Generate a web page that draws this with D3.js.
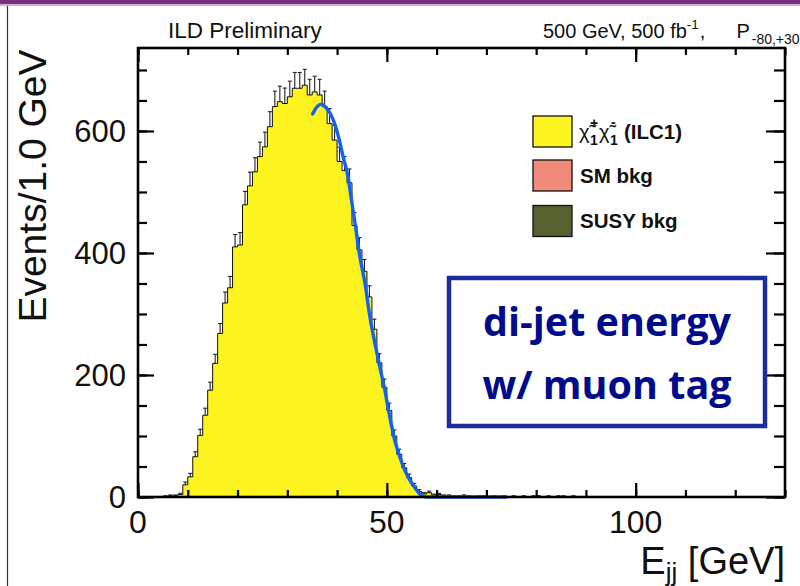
<!DOCTYPE html>
<html><head><meta charset="utf-8">
<script src="https://cdn.jsdelivr.net/npm/d3@7"></script>
<style>
html,body{margin:0;padding:0;background:#fff;}
svg{display:block;}
</style></head>
<body>
<svg id="c" width="800" height="586"></svg>
<script>
// ---- data ----
const binLow = [4,5,6,7,8,9,10,11,12,13,14,15,16,17,18,19,20,21,22,23,24,25,26,27,28,29,30,31,32,33,34,35,36,37,38,39,40,41,42,43,44,45,46,47,48,49,50,51,52,53,54,55,56,57,58,59,60,61,62,63,64,65,66,67,68,69,70,71,72,73,74,75,76,77,78,79,80,81,82,83,84,85,86,87,88,89];
const counts = [0,1,2,2,4,20,33,66,101,134,175,219,268,318,343,410,413,479,510,533,558,574,607,640,648,645,656,670,670,675,659,664,659,640,612,585,550,535,515,445,405,370,328,275,220,180,142,100,70,48,32,18,9,5,7,3,4,2,2,1,1,2,1,0,1,1,0,1,0,1,0,1,0,1,0,1,1,0,1,0,1,1,0,1,0,0];
const binWidth = 1.0;
const fitX = [35.1,36.0,36.9,37.8,38.6,39.9,40.6,41.2,42.2,42.6,43.6,44.6,45.6,46.6,47.6,48.6,49.6,50.6,51.6,52.6,53.6,54.6,56.0,57.0,58.0,74.0];
const fitY = [628,640,644,638,629,602,580,558,525,503,449,393,351,295,252,213,175,131,93,66,44,28,11,2,0,0];
const xTicks = [0,50,100];
const yTicks = [0,200,400,600];
const legendItems = ["chi", "SM bkg", "SUSY bkg"];
const legendColors = ["#fdf31f", "#f08a7a", "#566130"];

// ---- layout ----
const svg = d3.select("#c");
const L = 138, R = 785, T = 48, B = 497;
const x = d3.scaleLinear().domain([0,130]).range([L,R]);
const y = d3.scaleLinear().domain([0,736]).range([B,T]);
const FONT = "'Liberation Sans', Arial, Helvetica, sans-serif";

// slide decorations
svg.append("rect").attr("x",0).attr("y",0).attr("width",800).attr("height",4).attr("fill","#7d2e80");
svg.append("rect").attr("x",0).attr("y",4).attr("width",800).attr("height",2).attr("fill","#c9b6cb");
svg.append("line").attr("x1",7.5).attr("x2",7.5).attr("y1",6).attr("y2",586).attr("stroke","#333").attr("stroke-width",1.2);

const bins = binLow.map((lo,i)=>({lo, hi: lo+binWidth, v: counts[i]}));

// error bars (drawn first, lower half hidden by fill)
const eb = svg.append("g").attr("stroke","#222").attr("stroke-width",1.1).attr("fill","none");
bins.filter(d=>d.v>0).forEach(d=>{
  const cx = x(d.lo + binWidth/2);
  const e = Math.sqrt(d.v);
  const yt = y(d.v+e), yb = y(Math.max(0,d.v-e));
  eb.append("line").attr("x1",cx).attr("x2",cx).attr("y1",yt).attr("y2",yb);
  eb.append("line").attr("x1",cx-2).attr("x2",cx+2).attr("y1",yt).attr("y2",yt);
  eb.append("line").attr("x1",cx-2).attr("x2",cx+2).attr("y1",yb).attr("y2",yb);
});

// step points
const steps = [];
bins.forEach(d=>{ steps.push([d.lo,d.v]); steps.push([d.hi,d.v]); });
const area = d3.area().x(p=>x(p[0])).y0(y(0)).y1(p=>y(p[1]));
svg.append("path").datum(steps).attr("d",area).attr("fill","#fdf31f");
const line = d3.line().x(p=>x(p[0])).y(p=>y(p[1]));
svg.append("path").datum([[bins[0].lo,0]].concat(steps)).attr("d",line).attr("fill","none").attr("stroke","#111").attr("stroke-width",1);

// fit curve
const fitPts = fitX.map((v,i)=>[v,fitY[i]]);
svg.append("path").datum(fitPts).attr("d",d3.line().x(p=>x(p[0])).y(p=>y(p[1])).curve(d3.curveMonotoneX))
  .attr("fill","none").attr("stroke","#1462f5").attr("stroke-width",3.4).attr("stroke-linecap","round");

// axes with ticks inside
function tickAxis(axis, sel){ sel.call(axis); sel.select(".domain").remove(); sel.selectAll("text").remove(); sel.selectAll("line").attr("stroke","#000").attr("stroke-width",2.2); }
const xMinor = d3.range(0,131,10);
const yMinor = d3.range(0,736,50);
tickAxis(d3.axisTop(x).tickValues(xMinor).tickSize(7).tickFormat(""), svg.append("g").attr("transform",`translate(0,${B})`));
tickAxis(d3.axisTop(x).tickValues(xTicks).tickSize(14).tickFormat(""), svg.append("g").attr("transform",`translate(0,${B})`));
tickAxis(d3.axisBottom(x).tickValues(xMinor).tickSize(7).tickFormat(""), svg.append("g").attr("transform",`translate(0,${T})`));
tickAxis(d3.axisBottom(x).tickValues(xTicks).tickSize(14).tickFormat(""), svg.append("g").attr("transform",`translate(0,${T})`));
tickAxis(d3.axisRight(y).tickValues(yMinor).tickSize(9).tickFormat(""), svg.append("g").attr("transform",`translate(${L},0)`));
tickAxis(d3.axisRight(y).tickValues(yTicks).tickSize(16).tickFormat(""), svg.append("g").attr("transform",`translate(${L},0)`));
tickAxis(d3.axisLeft(y).tickValues(yMinor).tickSize(11).tickFormat(""), svg.append("g").attr("transform",`translate(${R},0)`));
tickAxis(d3.axisLeft(y).tickValues(yTicks).tickSize(19).tickFormat(""), svg.append("g").attr("transform",`translate(${R},0)`));

// frame
svg.append("rect").attr("x",L).attr("y",T).attr("width",R-L).attr("height",B-T)
  .attr("fill","none").attr("stroke","#000").attr("stroke-width",2.6);

// tick labels
svg.append("g").selectAll("text").data(xTicks).join("text")
  .attr("x",d=>x(d)).attr("y",533).attr("text-anchor","middle")
  .attr("font-family",FONT).attr("font-size",32).attr("fill","#111").text(d=>d);
svg.append("g").selectAll("text").data(yTicks).join("text")
  .attr("x",126).attr("y",d=>y(d)+11).attr("text-anchor","end")
  .attr("font-family",FONT).attr("font-size",31).attr("fill","#111").text(d=>d);

// axis titles
svg.append("text").attr("transform","translate(46,186) rotate(-90)").attr("text-anchor","middle")
  .attr("font-family",FONT).attr("font-size",39).attr("fill","#111").text("Events/1.0 GeV");
const xt = svg.append("text").attr("x",785).attr("y",574).attr("text-anchor","end")
  .attr("font-family",FONT).attr("font-size",38).attr("fill","#111");
xt.append("tspan").text("E");
xt.append("tspan").attr("font-size",26).attr("dy",7).text("jj");
xt.append("tspan").attr("dy",-7).text(" [GeV]");

// header
svg.append("text").attr("x",168).attr("y",38).attr("font-family",FONT).attr("font-size",22.5).attr("fill","#111").text("ILD Preliminary");
const hr = svg.append("text").attr("x",543).attr("y",38).attr("font-family",FONT).attr("font-size",20).attr("fill","#111");
hr.append("tspan").text("500 GeV, 500 fb");
hr.append("tspan").attr("font-size",13.5).attr("dy",-9).text("-1");
hr.append("tspan").attr("dy",9).attr("dx",1).text(",");
hr.append("tspan").attr("dx",31).text("P");
hr.append("tspan").attr("font-size",14).attr("dy",6).attr("dx",2).text("-80,+30");

// legend
const lg = svg.append("g");
const rowY = [131.5,175.5,221];
legendItems.forEach((k,i)=>{
  lg.append("rect").attr("x",533).attr("y",rowY[i]-15.5).attr("width",39).attr("height",31)
    .attr("fill",legendColors[i]).attr("stroke","#111").attr("stroke-width",1.3);
});
const lt = (t,xx,yy,fs,bold)=>lg.append("text").attr("x",xx).attr("y",yy).attr("font-family",FONT)
  .attr("font-size",fs).attr("font-weight",bold?"bold":"normal").attr("fill","#111").text(t);
lt("\u03C7\u0303",579,rowY[0]+7,20,false);
lt("+",590,rowY[0]-4,14,true);
lt("1",590,rowY[0]+13,14,true);
lt("\u03C7\u0303",599,rowY[0]+7,20,false);
lt("-",611,rowY[0]-5,14,true);
lt("1",610,rowY[0]+13,14,true);
lt("(ILC1)",624,rowY[0]+7,20.5,true);
lt("SM bkg",580,rowY[1]+7,20.5,true);
lt("SUSY bkg",580,rowY[2]+7,20.5,true);

// annotation box
svg.append("rect").attr("x",449).attr("y",278).attr("width",316).attr("height",148)
  .attr("fill","#fff").attr("stroke","#1c2c9e").attr("stroke-width",4.5);
svg.append("text").attr("x",607).attr("y",336).attr("text-anchor","middle")
  .attr("font-family","'Open Sans', sans-serif").attr("font-weight","bold").attr("font-size",39.5)
  .attr("fill","#000c8c").text("di-jet energy");
svg.append("text").attr("x",607).attr("y",399).attr("text-anchor","middle")
  .attr("font-family","'Open Sans', sans-serif").attr("font-weight","bold").attr("font-size",39.5)
  .attr("fill","#000c8c").text("w/ muon tag");
</script>
</body></html>
